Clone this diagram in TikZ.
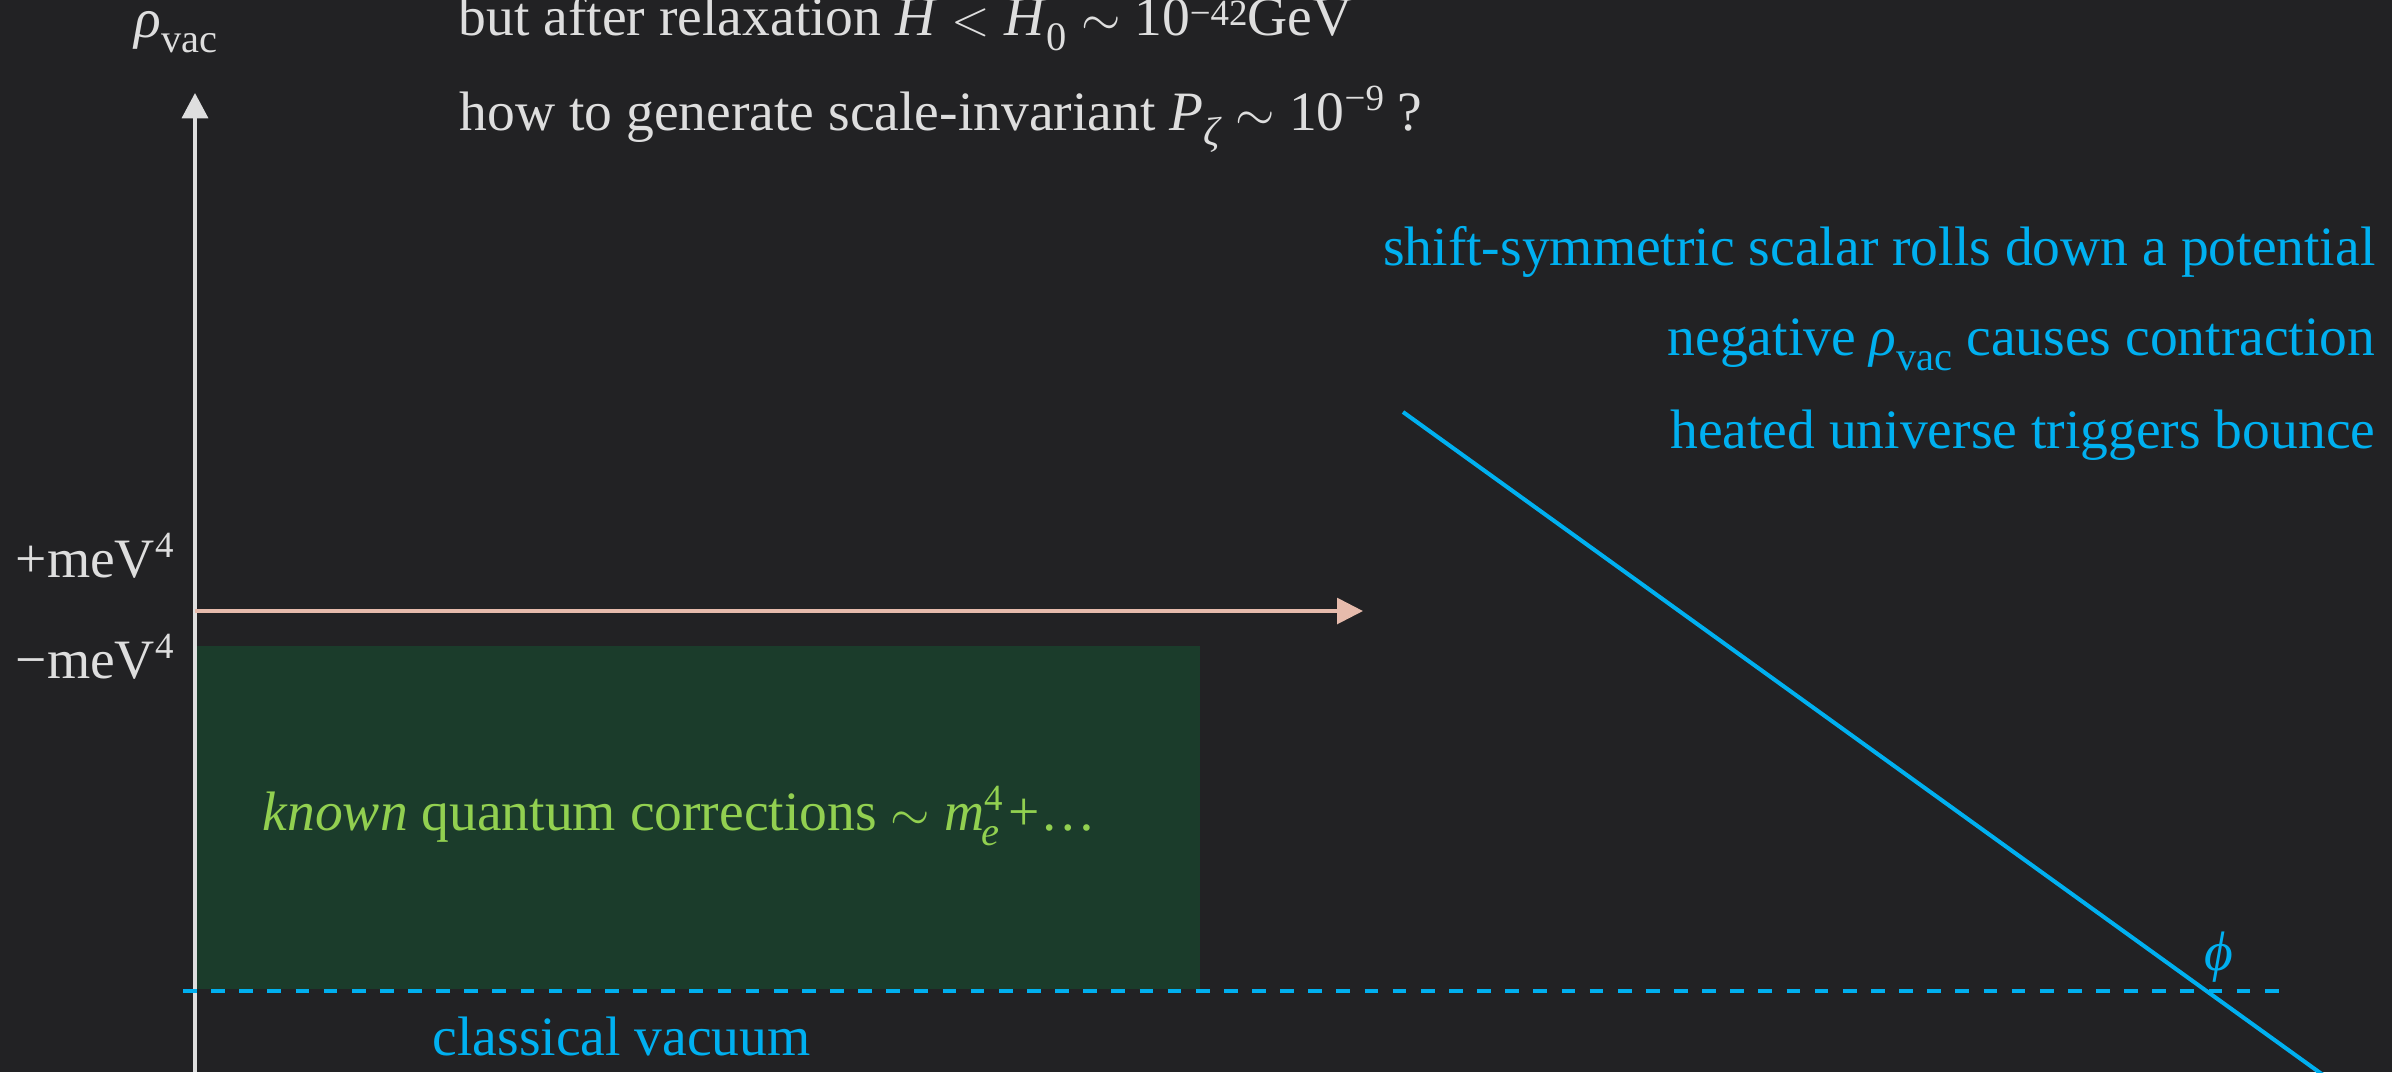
\documentclass[tikz,border=0pt]{standalone}
\usepackage{fontspec}
\setmainfont{Liberation Serif}
\usetikzlibrary{arrows.meta}
\definecolor{bgc}{RGB}{34,34,36}
\definecolor{axc}{RGB}{222,222,222}
\definecolor{pinkc}{RGB}{230,187,172}
\definecolor{bluec}{RGB}{0,176,240}
\definecolor{greent}{RGB}{146,208,80}
\definecolor{greenr}{RGB}{27,60,43}
\newcommand{\mysub}[1]{\raisebox{-0.28em}{\fontsize{11.5pt}{12pt}\selectfont #1}}
\newcommand{\mysup}[1]{\raisebox{0.36em}{\fontsize{10.5pt}{12pt}\selectfont #1}}
\newcommand{\mylowsup}[1]{\raisebox{0.18em}{\fontsize{10.5pt}{12pt}\selectfont #1}}
\tikzset{
  txt/.style={inner sep=0pt, font=\fontsize{15.8pt}{19pt}\selectfont},
  graytxt/.style={txt, text=axc},
  bluetxt/.style={txt, text=bluec},
  axisline/.style={draw=axc, line width=1pt, -{Triangle[length=7.2pt,width=7.4pt]}},
  xaxisline/.style={draw=pinkc, line width=1.1pt, -{Triangle[length=7.4pt,width=7.3pt]}},
  dashline/.style={draw=bluec, line width=1.15pt, dash pattern=on 3.9pt off 4.1pt},
  potline/.style={draw=bluec, line width=1.15pt},
}
\begin{document}
\begin{tikzpicture}[x=0.01cm,y=-0.01cm]
\fill[bgc] (0,0) rectangle (2392,1072);
\useasboundingbox (0,0) rectangle (2392,1072);
\begin{scope}
\clip (0,0) rectangle (2392,1072);
% green region
\fill[greenr] (197,646) rectangle (1200,989);
% coordinates
\coordinate (yb) at (195,1072);
\coordinate (yt) at (195,93);
\coordinate (xo) at (195,611);
\coordinate (xe) at (1363,611);
\coordinate (dl) at (183,991);
\coordinate (dr) at (2286,991);
\coordinate (p1) at (1403,412);
\coordinate (p2) at (2330,1080);
% axes
\draw[axisline] (yb) -- (yt);
\draw[xaxisline] (xo) -- (xe);
\draw[dashline] (dl) -- (dr);
\draw[potline] (p1) -- (p2);
\end{scope}
% labels
\node[graytxt, anchor=base west] (rho) at (134,37) {\textit{ρ}\mysub{vac}};
\node[graytxt, anchor=base west] (t1) at (458,35) {but after relaxation \textit{H} $<$ \textit{H}\mysub{0} $\sim$ 10\mylowsup{−42}GeV};
\node[graytxt, anchor=base west] (t2) at (459,130) {how to generate scale-invariant \textit{P}\mysub{\textit{ζ}} $\sim$ 10\mysup{−9} ?};
\node[graytxt, anchor=base west] (pm) at (15,577) {+meV\mysup{4}};
\node[graytxt, anchor=base west] (mm) at (15,678) {−meV\mysup{4}};
\node[bluetxt, anchor=base east] (b1) at (2376,265) {shift-symmetric scalar rolls down a potential};
\node[bluetxt, anchor=base east] (b2) at (2376,355) {negative \textit{ρ}\mysub{vac} causes contraction};
\node[bluetxt, anchor=base east] (b3) at (2376,448) {heated universe triggers bounce};
\node[txt, text=greent, anchor=base west] (kn) at (262,830) {\textit{known} quantum corrections $\sim$ \textit{m}\mysup{4}\kern-0.38em\mysub{\textit{e}}\,+…};
\node[bluetxt, anchor=base west] (cv) at (432,1055) {classical vacuum};
\node[bluetxt, anchor=base] (phi) at (2219,970) {\textit{ϕ}};
\end{tikzpicture}
\end{document}
